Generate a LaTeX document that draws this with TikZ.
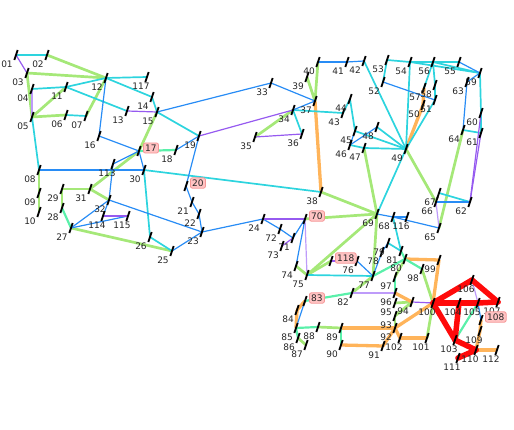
\documentclass[tikz,border=0pt]{standalone}
\usepackage{fontspec}
\setmainfont{DejaVu Sans}
\definecolor{cG}{RGB}{165,232,120}
\definecolor{cC}{RGB}{45,212,222}
\definecolor{cB}{RGB}{40,140,245}
\definecolor{cP}{RGB}{150,90,240}
\definecolor{cPl}{RGB}{190,155,250}
\definecolor{cM}{RGB}{90,240,170}
\definecolor{cO}{RGB}{255,180,90}
\definecolor{cR}{RGB}{255,10,10}
\definecolor{boxf}{RGB}{255,195,195}
\definecolor{boxd}{RGB}{245,150,150}
\definecolor{txt}{RGB}{38,38,38}
\begin{document}
\begin{tikzpicture}[x=1pt,y=-1pt,
  eG/.style={draw=cG,line width=2.7pt},
  eC/.style={draw=cC,line width=1.7pt},
  eB/.style={draw=cB,line width=1.2pt},
  eP/.style={draw=cP,line width=1.2pt},
  ePl/.style={draw=cPl,line width=1.2pt},
  eM/.style={draw=cM,line width=2.2pt},
  eO/.style={draw=cO,line width=3.3pt},
  eR/.style={draw=cR,line width=5.5pt},
  tick/.style={draw=black,line width=1.8pt},
  lab/.style={text=txt,inner sep=0pt,font=\fontsize{9}{10}\selectfont},
  boxlab/.style={text=txt,fill=boxf,draw=boxd,rounded corners=2pt,inner sep=1.8pt,line width=0.8pt,font=\fontsize{9}{10}\selectfont}]
\useasboundingbox (0,0) rectangle (514,430);
% buses with two-digit labels
\foreach \n/\x/\y in {01/16/55, 02/47/55, 03/27/73, 04/32/89, 05/32/117, 06/66/115, 07/86/116, 08/39/170, 09/39/193, 10/39/212, 11/66/87, 12/106/78, 13/127/111, 14/152/97, 15/157/112, 16/99/136, 18/176/150, 19/199/136, 21/192/202, 22/199/214, 23/202/232, 24/263/219, 25/172/251, 26/150/237, 27/71/228, 28/62/208, 29/62/189, 30/144/170, 31/90/189, 32/109/200, 33/271/83, 34/293/110, 35/255/137, 36/302/134, 37/315/101, 38/321/192, 39/307/77, 40/318/62, 41/347/62, 42/364/61, 43/343/113, 44/350/99, 45/355/131, 46/350/145, 47/364/148, 48/377/127, 49/406/149, 50/423/105, 51/435/100, 52/383/82, 53/387/60, 54/410/62, 55/459/62, 56/433/62, 57/424/88, 58/435/85, 59/480/73, 60/481/113, 61/481/133, 62/470/202, 63/467/82, 64/463/130, 65/439/228, 66/436/202, 67/439/193, 68/393/217, 69/377/214, 71/293/238, 72/280/229, 73/282/246, 74/296/266, 75/307/275, 76/357/261, 77/373/276, 78/382/252, 79/388/243, 80/405/259, 81/401/251, 82/352/293, 84/297/310, 85/296/328, 86/298/338, 87/306/345, 88/318/327, 89/341/328, 90/341/345, 91/383/346, 92/395/328, 93/395/316, 94/412/302, 95/395/303, 96/395/293, 97/395/277, 98/422/269, 99/439/260}
  {\coordinate (b\n) at (\x,\y);}
% buses with three-digit labels
\foreach \n/\x/\y in {100/433/303, 101/427/338, 102/400/338, 103/455/340, 104/459/303, 105/478/303, 106/472/280, 107/498/302, 109/480/331, 110/476/350, 111/458/358, 112/497/350, 113/113/164, 114/103/216, 115/128/216, 116/407/217, 117/147/77}
  {\coordinate (b\n) at (\x,\y);}
% buses with boxed labels
\foreach \n/\x/\y in {17/139/151, 20/186/186, 70/305/219, 83/305/301, 108/481/320, 118/331/261}
  {\coordinate (b\n) at (\x,\y);}
% lines
\foreach \a/\b in {02/12, 03/12, 03/05, 05/11, 05/06, 07/12, 15/17, 17/31, 08/09, 09/10, 29/31, 28/29, 31/32, 25/27, 74/75, 69/70, 69/75, 75/118, 69/77, 77/82, 86/87, 88/89, 98/100, 80/97, 92/93, 93/94, 94/95, 100/101, 35/34, 37/39, 37/40, 38/69, 47/69, 49/66, 64/65}
  \draw[eG] (b\a) -- (b\b);
\foreach \a/\b in {83/84, 84/85, 89/92, 90/91, 91/92, 96/94, 92/100, 92/102, 101/102, 80/99, 99/100, 49/50, 50/57, 37/38, 108/109, 109/110, 110/112}
  \draw[eO] (b\a) -- (b\b);
\foreach \a/\b in {01/02, 04/11, 11/12, 06/07, 12/117, 12/14, 11/13, 14/15, 15/19, 05/08, 26/30, 25/26, 30/38, 75/77, 79/81, 68/81, 34/43, 34/36, 43/44, 44/45, 45/49, 48/49, 46/47, 47/49, 49/69, 49/51, 51/58, 49/54, 56/57, 56/58, 53/54, 54/56, 55/56, 54/59, 56/59, 59/60, 60/61, 61/64, 62/67, 42/49, 52/53}
  \draw[eC] (b\a) -- (b\b);
\foreach \a/\b in {12/16, 15/33, 16/17, 18/19, 19/20, 17/113, 17/30, 08/30, 32/113, 27/32, 32/114, 27/115, 23/32, 23/25, 20/21, 21/22, 22/23, 23/24, 24/72, 71/72, 70/71, 70/74, 76/77, 77/78, 78/79, 83/85, 105/108, 33/37, 34/37, 40/41, 41/42, 45/46, 46/48, 51/52, 55/59, 59/63, 63/64, 62/66, 65/68, 68/69, 68/116}
  \draw[eB] (b\a) -- (b\b);
\foreach \a/\b in {01/03, 13/15, 19/34, 114/115, 24/70, 71/73, 118/76, 35/36, 60/62, 61/62, 94/100}
  \draw[eP] (b\a) -- (b\b);
\foreach \a/\b in {04/05, 70/75, 82/96, 65/66, 105/106}
  \draw[ePl] (b\a) -- (b\b);
\foreach \a/\b in {17/18, 27/28, 82/83, 85/86, 85/88, 89/90, 80/98, 96/97, 103/105, 80/81, 77/80}
  \draw[eM] (b\a) -- (b\b);
\foreach \a/\b in {100/103, 100/104, 103/104, 100/106, 106/107, 104/105, 105/107, 103/110, 110/111}
  \draw[eR,line cap=round,line join=round] (b\a) -- (b\b);
% ticks and labels
\foreach \n/\x/\y in {01/16/55, 02/47/55, 03/27/73, 04/32/89, 05/32/117, 06/66/115, 07/86/116, 08/39/170, 09/39/193, 10/39/212, 11/66/87, 12/106/78, 13/127/111, 14/152/97, 15/157/112, 16/99/136, 18/176/150, 19/199/136, 21/192/202, 22/199/214, 23/202/232, 24/263/219, 25/172/251, 26/150/237, 27/71/228, 28/62/208, 29/62/189, 30/144/170, 31/90/189, 32/109/200, 33/271/83, 34/293/110, 35/255/137, 36/302/134, 37/315/101, 38/321/192, 39/307/77, 40/318/62, 41/347/62, 42/364/61, 43/343/113, 44/350/99, 45/355/131, 46/350/145, 47/364/148, 48/377/127, 49/406/149, 50/423/105, 51/435/100, 52/383/82, 53/387/60, 54/410/62, 55/459/62, 56/433/62, 57/424/88, 58/435/85, 59/480/73, 60/481/113, 61/481/133, 62/470/202, 63/467/82, 64/463/130, 65/439/228, 66/436/202, 67/439/193, 68/393/217, 69/377/214, 71/293/238, 72/280/229, 73/282/246, 74/296/266, 75/307/275, 76/357/261, 77/373/276, 78/382/252, 79/388/243, 80/405/259, 81/401/251, 82/352/293, 84/297/310, 85/296/328, 86/298/338, 87/306/345, 88/318/327, 89/341/328, 90/341/345, 91/383/346, 92/395/328, 93/395/316, 94/412/302, 95/395/303, 96/395/293, 97/395/277, 98/422/269, 99/439/260}
  {\draw[tick] ({\x-1.7},{\y+5}) -- ({\x+1.7},{\y-5});
   \node[lab] (l\n) at ({\x-9},{\y+9.5}) {\n};}
\foreach \n/\x/\y in {100/433/303, 101/427/338, 102/400/338, 103/455/340, 104/459/303, 105/478/303, 106/472/280, 107/498/302, 109/480/331, 110/476/350, 111/458/358, 112/497/350, 113/113/164, 114/103/216, 115/128/216, 116/407/217, 117/147/77}
  {\draw[tick] ({\x-1.7},{\y+5}) -- ({\x+1.7},{\y-5});
   \node[lab] (l\n) at ({\x-6},{\y+9.5}) {\n};}
\foreach \n/\x/\y in {17/139/151, 20/186/186, 70/305/219, 83/305/301, 108/481/320, 118/331/261}
  {\draw[tick] ({\x-1.7},{\y+5}) -- ({\x+1.7},{\y-5});
   \node[boxlab,anchor=west] (l\n) at ({\x+4},{\y-3}) {\n};}
\end{tikzpicture}
\end{document}
